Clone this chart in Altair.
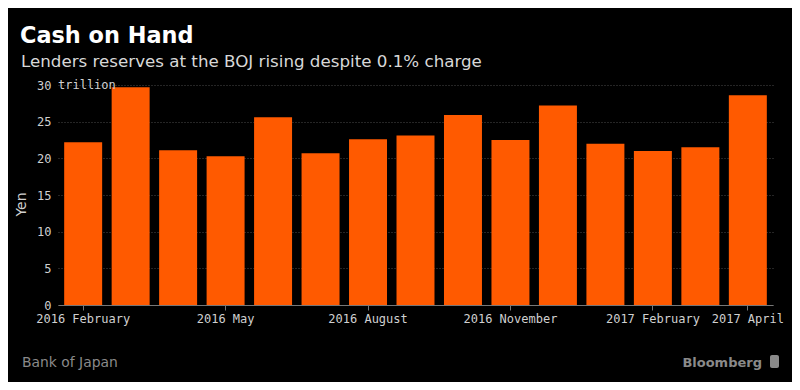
import altair as alt
import pandas as pd

months = ["2016 February", "2016 March", "2016 April", "2016 May", "2016 June",
          "2016 July", "2016 August", "2016 September", "2016 October",
          "2016 November", "2016 December", "2017 January", "2017 February",
          "2017 March", "2017 April"]
reserves = [22.2, 29.7, 21.1, 20.3, 25.6, 20.7, 22.6, 23.1, 25.9, 22.5,
            27.2, 22.0, 21.0, 21.5, 28.6]
labeled = ["2016 February", "2016 May", "2016 August", "2016 November",
           "2017 February", "2017 April"]
y_ticks = [0, 5, 10, 15, 20, 25, 30]

title_text = "Cash on Hand"
subtitle_text = "Lenders reserves at the BOJ rising despite 0.1% charge"
source_text = "Bank of Japan"
brand_text = "Bloomberg"
unit_text = "trillion"

df = pd.DataFrame({"month": months, "value": reserves})

MONO = "DejaVu Sans Mono"
SANS = "DejaVu Sans"

yscale = alt.Scale(domain=[0, 30], nice=False)
yaxis = alt.Axis(values=y_ticks, title="Yen", titleFont=SANS,
                 titleFontSize=14, titleFontWeight="normal",
                 titleColor="#d0d0d0", titlePadding=8, titleY=119,
                 labelFont=MONO, labelFontSize=12, labelColor="#d0d0d0",
                 labelPadding=7, ticks=False, domain=False,
                 labelOverlap=False,
                 grid=True, gridColor="#4a4a4a", gridDash=[1, 2])

bars = alt.Chart(df).mark_bar(color="#ff5a00").encode(
    x=alt.X("month:N", sort=months,
            scale=alt.Scale(paddingInner=0.2, paddingOuter=0.13),
            axis=alt.Axis(values=labeled, labelAngle=0, title=None,
                          labelFont=MONO, labelFontSize=12, labelColor="#d0d0d0",
                          domainColor="#777777", tickColor="#777777",
                          tickSize=5, labelPadding=3, grid=False)),
    y=alt.Y("value:Q", scale=yscale, axis=yaxis, title="Yen"),
)

unit = alt.Chart(pd.DataFrame({"t": [unit_text], "value": [30]})).mark_text(
    font=MONO, fontSize=12, color="#d0d0d0", align="left", baseline="middle"
).encode(text="t:N", y=alt.Y("value:Q", scale=yscale, axis=yaxis, title="Yen"),
         x=alt.value(0))

title = alt.Chart(pd.DataFrame({"t": [title_text]})).mark_text(
    font=SANS, fontSize=22.4, fontWeight="bold", color="#ffffff",
    align="left", baseline="alphabetic"
).encode(text="t:N", x=alt.value(-38), y=alt.value(-42))

subtitle = alt.Chart(pd.DataFrame({"t": [subtitle_text]})).mark_text(
    font=SANS, fontSize=16.7, color="#d8d8d8",
    align="left", baseline="alphabetic"
).encode(text="t:N", x=alt.value(-37), y=alt.value(-18))

source = alt.Chart(pd.DataFrame({"t": [source_text]})).mark_text(
    font=SANS, fontSize=13.9, color="#8a8a8a",
    align="left", baseline="alphabetic"
).encode(text="t:N", x=alt.value(-36), y=alt.value(282))

brand = alt.Chart(pd.DataFrame({"t": [brand_text]})).mark_text(
    font=SANS, fontSize=13, fontWeight="bold", color="#8a8a8a",
    align="right", baseline="alphabetic"
).encode(text="t:N", x=alt.value(704), y=alt.value(282))

icon = alt.Chart(pd.DataFrame({"k": [1]})).mark_rect(
    color="#8a8a8a", cornerRadius=2
).encode(x=alt.value(712), x2=alt.value(721), y=alt.value(270), y2=alt.value(283))

chart = alt.layer(bars, unit, title, subtitle, source, brand, icon).properties(
    width=715, height=220,
    autosize=alt.AutoSizeParams(type="none"),
    padding={"left": 50, "top": 77, "right": 19, "bottom": 77},
    background="#000000",
).configure_view(stroke=None)

chart.save("out.html", embed_options={"renderer": "svg", "actions": False})
